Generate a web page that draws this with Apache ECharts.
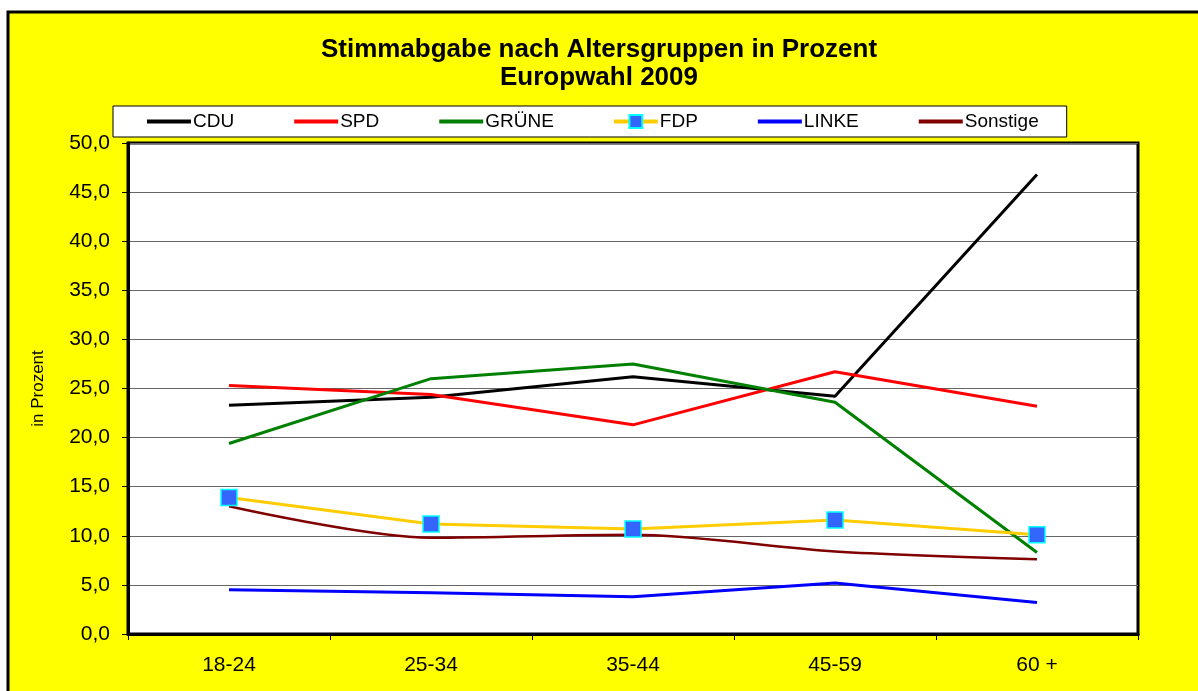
<!DOCTYPE html>
<html>
<head>
<meta charset="utf-8">
<script src="https://cdn.jsdelivr.net/npm/echarts@6/dist/echarts.min.js"></script>
<style>
  html, body { margin: 0; padding: 0; background: #fff; }
  #chart { width: 1198px; height: 691px; }
</style>
</head>
<body>
<div id="chart"></div>
<script>
// Altersgruppen
const categories = ['18-24', '25-34', '35-44', '45-59', '60 +'];

// Werte in Prozent
const cdu = [23.3, 24.1, 26.2, 24.2, 46.8];
const spd = [25.3, 24.4, 21.3, 26.7, 23.2];
const gruene = [19.4, 26.0, 27.5, 23.6, 8.3];
const fdp = [13.9, 11.2, 10.7, 11.6, 10.1];
const linke = [4.5, 4.2, 3.8, 5.2, 3.2];
const sonstige = [13.0, 9.8, 10.1, 8.4, 7.6];

const font = '"Liberation Sans", Arial, sans-serif';

const chart = echarts.init(document.getElementById('chart'));

const lineSeries = (name, data, color, width, extra) => Object.assign({
  name: name,
  type: 'line',
  data: data,
  symbol: 'none',
  lineStyle: { color: color, width: width },
  itemStyle: { color: color },
  z: 3
}, extra || {});

// Legendeneintrag nur als Linie (ohne Symbol)
const plainItem = name => ({ name: name, itemStyle: { opacity: 0 } });

const option = {
  backgroundColor: '#ffffff',
  animation: false,
  graphic: [{
    type: 'rect',
    shape: { x: 8, y: 12, width: 1210, height: 700 },
    style: { fill: '#ffff00', stroke: '#000', lineWidth: 3 },
    z: -10
  }],
  title: {
    text: 'Stimmabgabe nach Altersgruppen in Prozent\nEuropwahl 2009',
    left: 'center',
    top: 31,
    textStyle: {
      fontFamily: font,
      fontSize: 26,
      fontWeight: 'bold',
      color: '#000',
      lineHeight: 28
    }
  },
  legend: {
    left: 113,
    top: 106,
    padding: [6, 28, 6, 32],
    itemGap: 58,
    itemWidth: 44,
    itemHeight: 16,
    backgroundColor: '#ffffff',
    borderColor: '#000',
    borderWidth: 1,
    borderRadius: 0,
    lineStyle: { width: 4 },
    textStyle: { fontFamily: font, fontSize: 19, color: '#000', padding: [0, 0, 0, -3] },
    data: [plainItem('CDU'), plainItem('SPD'), plainItem('GRÜNE'), 'FDP', plainItem('LINKE'), plainItem('Sonstige')]
  },
  grid: {
    left: 128,
    right: 60,
    top: 143,
    bottom: 57,
    show: true,
    backgroundColor: '#ffffff',
    borderColor: '#000',
    borderWidth: 3
  },
  xAxis: {
    type: 'category',
    data: categories,
    boundaryGap: true,
    axisLine: { lineStyle: { color: '#000', width: 3 } },
    axisTick: { show: true, alignWithLabel: false, length: 6, lineStyle: { color: '#000', width: 1 } },
    axisLabel: { fontFamily: font, fontSize: 21, color: '#000', margin: 21 }
  },
  yAxis: {
    type: 'value',
    min: 0,
    max: 50,
    interval: 5,
    name: 'in Prozent',
    nameLocation: 'middle',
    nameRotate: 90,
    nameGap: 81,
    nameTextStyle: { fontFamily: font, fontSize: 17, color: '#000' },
    axisLine: { show: true, lineStyle: { color: '#000', width: 3 } },
    axisTick: { show: true, length: 6, lineStyle: { color: '#000', width: 1 } },
    axisLabel: {
      fontFamily: font,
      fontSize: 21,
      color: '#000',
      margin: 18,
      formatter: v => v.toFixed(1).replace('.', ',')
    },
    splitLine: { show: true, lineStyle: { color: '#666666', width: 1 } }
  },
  series: [
    lineSeries('CDU', cdu, '#000000', 3),
    lineSeries('SPD', spd, '#ff0000', 3),
    lineSeries('GRÜNE', gruene, '#008000', 3),
    lineSeries('FDP', fdp, '#ffcc00', 3, {
      symbol: 'rect',
      symbolSize: 16,
      itemStyle: { color: '#3366ff', borderColor: '#00ffff', borderWidth: 1.5 },
      z: 4
    }),
    lineSeries('LINKE', linke, '#0000ff', 3),
    lineSeries('Sonstige', sonstige, '#800000', 2.5, { smooth: 0.3 })
  ]
};

chart.setOption(option);
</script>
</body>
</html>
